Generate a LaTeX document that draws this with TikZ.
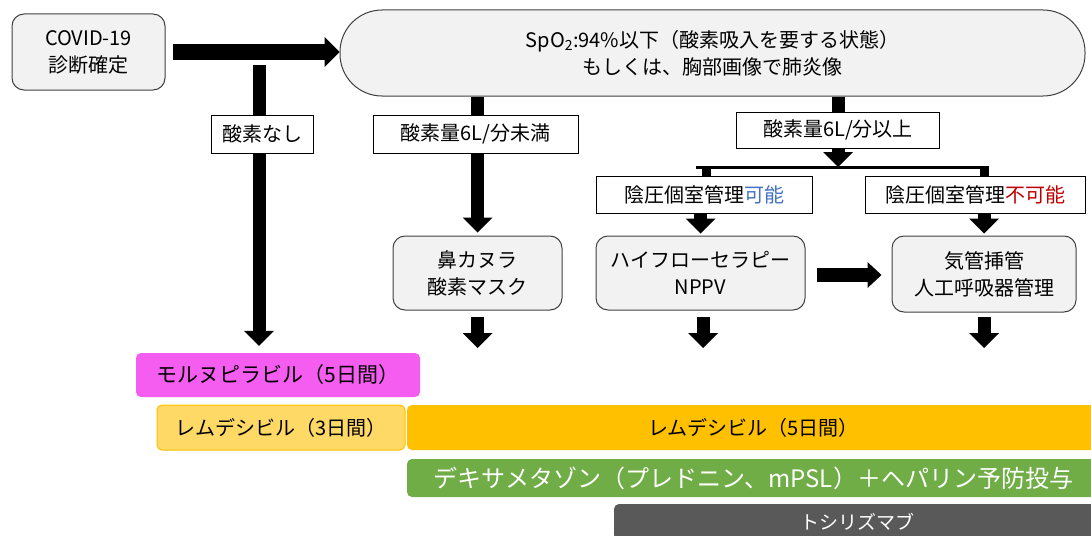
\documentclass[tikz,border=0pt]{standalone}
\usepackage{fontspec}
\setmainfont{Noto Sans CJK JP}
\usetikzlibrary{arrows.meta}
\definecolor{boxgray}{HTML}{F2F2F2}
\definecolor{okblue}{HTML}{4472C4}
\definecolor{ngred}{HTML}{C00000}
\definecolor{magentabar}{HTML}{F55CF0}
\definecolor{lightorange}{HTML}{FFD966}
\definecolor{orangebar}{HTML}{FFC000}
\definecolor{greenbar}{HTML}{70AD47}
\definecolor{graybar}{HTML}{595959}
\begin{document}
\begin{tikzpicture}[x=1pt,y=-1pt,
  flowbox/.style={draw=black!75, fill=boxgray, rounded corners=12pt, line width=1pt,
    inner sep=0pt, align=center, font=\fontsize{20}{27}\selectfont},
  lbl/.style={draw=black, fill=white, line width=1pt, inner sep=0pt,
    font=\fontsize{20}{24}\selectfont},
  barnode/.style={inner sep=0pt, rounded corners=5pt},
  fat/.style={line width=13pt, -{Triangle[width=30pt,length=15pt,line width=0pt]}},
  fatplain/.style={line width=13pt},
]
\useasboundingbox (0,0) rectangle (1091,535);

% main boxes
\node[flowbox, minimum width=153pt, minimum height=76pt] (covid) at (88.5,52)
  {COVID-19\\診断確定};
\node[flowbox, rounded corners=42pt, minimum width=745pt, minimum height=86pt,
  font=\fontsize{20}{27}\selectfont] (main) at (712.5,53)
  {SpO\textsubscript{2}:94\%以下（酸素吸入を要する状態）\\もしくは、胸部画像で肺炎像};
\node[flowbox, minimum width=169pt, minimum height=74pt] (nasal) at (477.5,273)
  {鼻カヌラ\\酸素マスク};
\node[flowbox, minimum width=209pt, minimum height=74pt] (hfnc) at (700.5,273)
  {ハイフローセラピー\\NPPV};
\node[flowbox, minimum width=184pt, minimum height=76pt] (intub) at (984,274)
  {気管挿管\\人工呼吸器管理};

% labels that are not crossed by lines
\node[lbl, minimum width=203pt, minimum height=36pt] (ge6) at (838,130) {酸素量6L/分以上};
\node[lbl, minimum width=216pt, minimum height=37pt] (ok) at (704,194.5)
  {陰圧個室管理\textcolor{okblue}{可能}};
\node[lbl, minimum width=220pt, minimum height=37pt] (ng) at (975,194.5)
  {陰圧個室管理\textcolor{ngred}{不可能}};

% bars
\node[barnode, fill=magentabar, minimum width=284pt, minimum height=44pt,
  font=\fontsize{21}{24}\selectfont] (molnu) at (278,375) {モルヌピラビル（5日間）};
\node[barnode, fill=lightorange, draw=orangebar, line width=1pt, minimum width=248pt,
  minimum height=45pt, font=\fontsize{20}{24}\selectfont] (rem3) at (281,427.5)
  {レムデシビル（3日間）};
\begin{scope}
\clip (0,0) rectangle (1091,535);
\node[barnode, fill=orangebar, minimum width=693pt, minimum height=45pt,
  font=\fontsize{20}{24}\selectfont] (rem5) at (753.5,427.5) {レムデシビル（5日間）};
\node[barnode, fill=greenbar, text=white, minimum width=693pt, minimum height=38pt,
  font=\fontsize{24}{26}\selectfont] (dexa) at (753.5,478)
  {デキサメタゾン（プレドニン、mPSL）＋ヘパリン予防投与};
\node[barnode, fill=graybar, text=white, minimum width=486pt, minimum height=36pt,
  font=\fontsize{19}{22}\selectfont] (toci) at (857,522) {トシリズマブ};
\end{scope}

% connectors
\draw[line width=16pt, -{Triangle[width=30pt,length=15pt,line width=0pt]}, shorten <=7pt]
  (covid.east) -- (covid.east -| main.west);
\coordinate (nstart) at (259,65);
\draw[fat, shorten >=7pt] (nstart) -- (nstart |- molnu.north);
\draw[fat, shorten >=3pt] (nasal.north |- main.south) -- (nasal.north);
\draw[fatplain] (ge6.north |- main.south) -- (ge6.north);
\coordinate (split) at (838,167);
\draw[fat] (ge6.south) -- (split);
\draw[line width=3pt, shorten <=-4.5pt, shorten >=-4.5pt]
  (hfnc.north |- split) -- (intub.north |- split);
\draw[line width=9pt] ([xshift=6pt]hfnc.north |- split) -- ([xshift=6pt]hfnc.north |- ok.north);
\draw[line width=9pt] (intub.north |- split) -- (intub.north |- ng.north);
\draw[fat, shorten >=2pt] (hfnc.north |- ok.south) -- (hfnc.north);
\draw[fat, shorten >=2pt] (intub.north |- ng.south) -- (intub.north);
\draw[line width=14pt, -{Triangle[width=26pt,length=14pt,line width=0pt]},
  shorten <=11pt, shorten >=10pt] (hfnc.east |- 0,275) -- (intub.west |- 0,275);
\coordinate (arrowrow) at (0,348);
\draw[fat, shorten <=6pt] (nasal.south) -- (nasal.south |- arrowrow);
\draw[fat, shorten <=6pt] ([xshift=2.5pt]hfnc.south) -- ([xshift=2.5pt]hfnc.south |- arrowrow);
\draw[fat, shorten <=4pt] (intub.south) -- (intub.south |- arrowrow);

% labels crossed by lines
\node[lbl, minimum width=102pt, minimum height=38pt] (none) at (262,134) {酸素なし};
\node[lbl, minimum width=205pt, minimum height=38pt] (lt6) at (475.5,134) {酸素量6L/分未満};
\end{tikzpicture}
\end{document}
